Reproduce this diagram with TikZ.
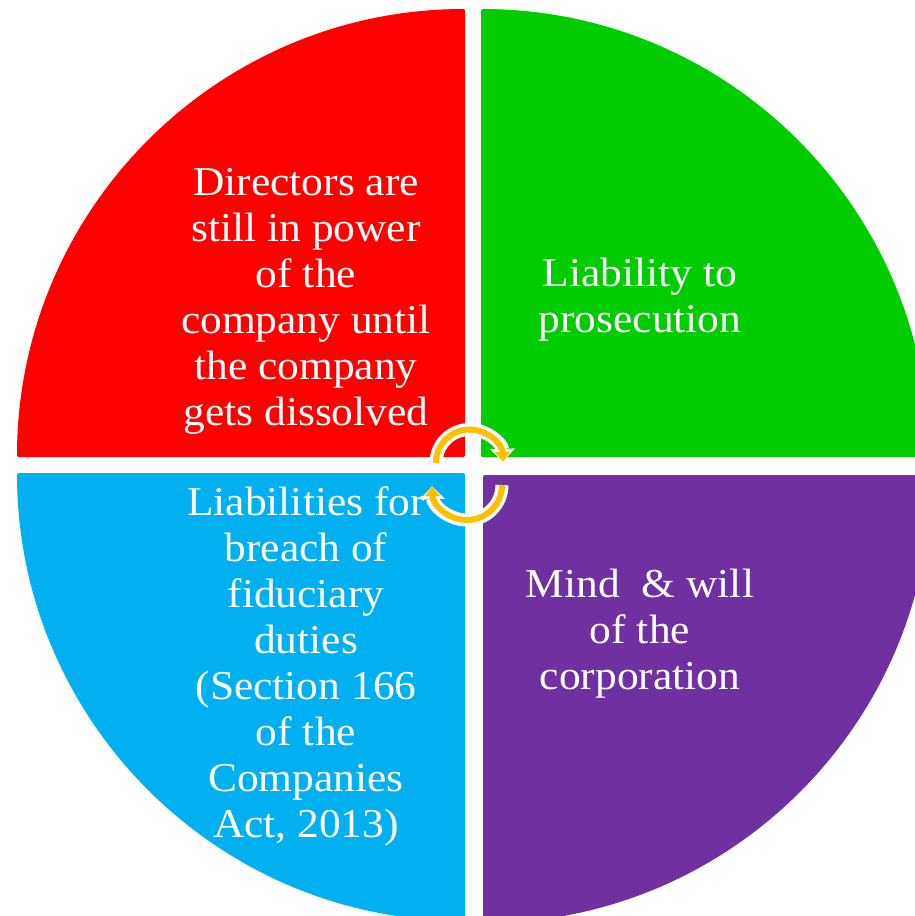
\documentclass[tikz,border=0pt]{standalone}
\usepackage{fontspec}
\usepackage{xcolor}
\usepackage{tikz}
\usetikzlibrary{arrows.meta}
\setmainfont[FakeStretch=1.06]{Liberation Serif}
\definecolor{redquad}{HTML}{FF0000}
\definecolor{greenquad}{HTML}{00CC00}
\definecolor{bluequad}{HTML}{00B0F0}
\definecolor{purplequad}{HTML}{7030A0}
\definecolor{cyclecol}{HTML}{FFC000}
\begin{document}
\begin{tikzpicture}[x=1pt,y=-1pt,
	quad/.style={rounded corners=1.5pt},
	quadtext/.style={text=white, align=center, inner sep=0pt, font=\fontsize{41}{46}\selectfont},
	casing/.style={white, line width=13pt, -{Triangle[length=13pt,width=24pt]}},
	cycle/.style={cyclecol, line width=6pt, -{Triangle[length=10pt,width=15pt]}}]
	\useasboundingbox (0,0) rectangle (915,916);
	\clip (0,0) rectangle (915,916);
	\fill[white] (0,0) rectangle (915,916);
	% the four quadrants
	\fill[quad, redquad] (465,457) -- (17,457) arc[start angle=180, end angle=270, radius=448] -- cycle;
	\fill[quad, greenquad] (481,457) -- (481,9) arc[start angle=270, end angle=360, radius=448] -- cycle;
	\fill[quad, bluequad] (465,473) -- (465,921) arc[start angle=90, end angle=180, radius=448] -- cycle;
	\fill[quad, purplequad] (483,475) -- (931,475) arc[start angle=0, end angle=90, radius=448] -- cycle;
	% labels
	\node[quadtext] (directors) at (306,301) {Directors are\\still in power\\of the\\company until\\the company\\gets dissolved};
	\node[quadtext] (prosecution) at (640,300) {Liability to\\prosecution};
	\node[quadtext] (fiduciary) at (306,666) {Liabilities for\\breach of\\fiduciary\\duties\\(Section 166\\of the\\Companies\\Act, 2013)};
	\node[quadtext] (mind) at (640,634) {Mind \ \& will\\of the\\corporation};
	% cycle in the middle
	\coordinate (topstart) at (436,463);
	\coordinate (bottomstart) at (502,485);
	\draw[casing] (topstart) arc[start angle=180, end angle=358, radius=33.5];
	\draw[casing] (bottomstart) arc[start angle=0, end angle=178, radius=35];
	\draw[cycle] (topstart) arc[start angle=180, end angle=358, radius=33.5];
	\draw[cycle] (bottomstart) arc[start angle=0, end angle=178, radius=35];
\end{tikzpicture}
\end{document}
